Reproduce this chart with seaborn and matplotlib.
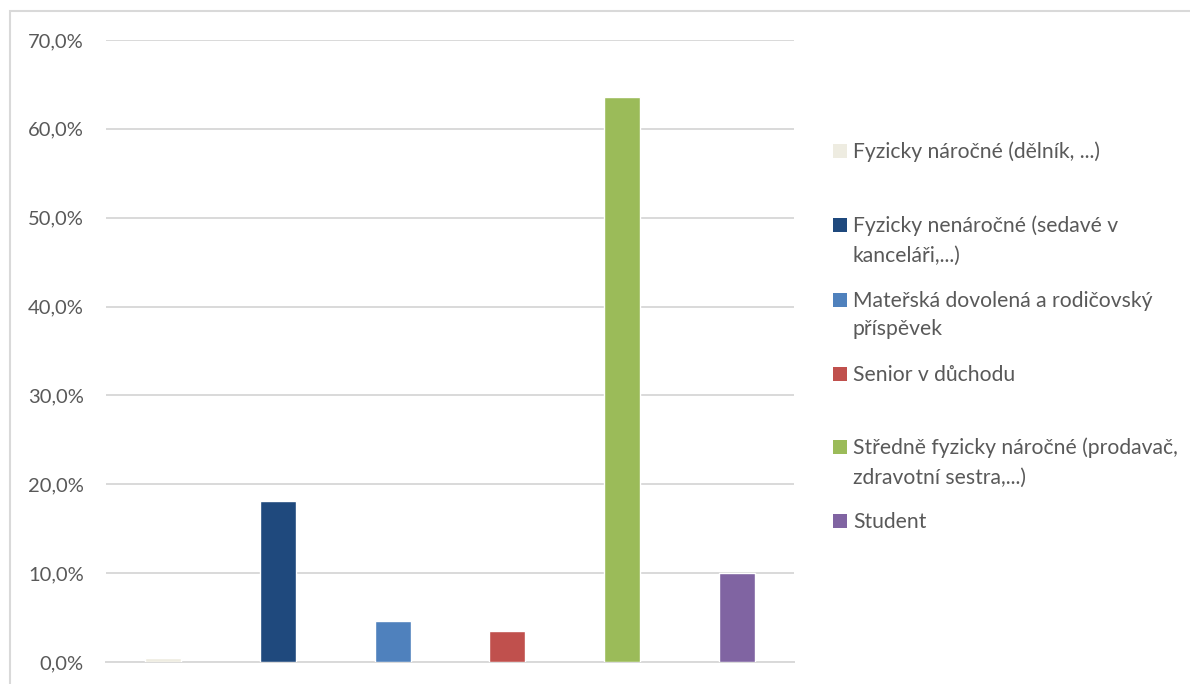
import matplotlib
matplotlib.use("Agg")
import matplotlib.pyplot as plt
from matplotlib.patches import Rectangle
from matplotlib.ticker import FuncFormatter
import seaborn as sns

categories = [
    "Fyzicky náročné (dělník, ...)",
    "Fyzicky nenáročné (sedavé v kanceláři,...)",
    "Mateřská dovolená a rodičovský příspěvek",
    "Senior v důchodu",
    "Středně fyzicky náročné (prodavač, zdravotní sestra,...)",
    "Student",
]
legend_labels = [
    "Fyzicky náročné (dělník, ...)",
    "Fyzicky nenáročné (sedavé v\nkanceláři,...)",
    "Mateřská dovolená a rodičovský\npříspěvek",
    "Senior v důchodu",
    "Středně fyzicky náročné (prodavač,\nzdravotní sestra,...)",
    "Student",
]
values = [0.4, 18.1, 4.6, 3.5, 63.6, 10.0]
colors = ["#EEECE1", "#1F497D", "#4F81BD", "#C0504D", "#9BBB59", "#8064A2"]
yticks = [0, 10, 20, 30, 40, 50, 60, 70]

sns.set_theme(style="white")
plt.rcParams["font.family"] = ["Lato", "DejaVu Sans"]

W, H = 1190, 684
fig = plt.figure(figsize=(W / 100, H / 100), dpi=100)
fig.patch.set_facecolor("white")

# outer chart border
fig.patches.append(Rectangle((10 / W, -0.1), 1.2, 1 - 10 / H + 0.1 - 0.001,
                             transform=fig.transFigure, fill=False,
                             edgecolor="#D9D9D9", linewidth=1.5))

ax = fig.add_axes([106 / W, 1 - 662 / H, (794 - 106) / W, (662 - 40) / H])
sns.barplot(x=categories, y=values, hue=categories, palette=colors,
            width=0.314, saturation=1, legend=False, ax=ax, zorder=3)

ax.set_ylim(0, 70)
ax.set_xlim(-0.5, len(categories) - 0.5)
ax.set_yticks(yticks)
ax.yaxis.set_major_formatter(FuncFormatter(lambda v, p: f"{v:.1f}%".replace(".", ",")))
ax.tick_params(axis="y", length=0, pad=16, labelsize=14.5, labelcolor="#595959")
ax.set_xticks([])
ax.set_xlabel("")
ax.set_ylabel("")
ax.grid(axis="y", color="#D9D9D9", linewidth=1.4, zorder=0)
for s in ["left", "right", "top"]:
    ax.spines[s].set_visible(False)
ax.spines["bottom"].set_color("#D9D9D9")
ax.spines["bottom"].set_linewidth(1.4)

# legend (Excel-style layout)
baselines = [[158], [232, 262], [307, 335], [381], [454, 484], [528]]
for lab, col, bl in zip(legend_labels, colors, baselines):
    fig.patches.append(Rectangle((833 / W, 1 - bl[0] / H), 14 / W, 14 / H,
                                 transform=fig.transFigure, facecolor=col,
                                 edgecolor="none"))
    for line, b in zip(lab.split("\n"), bl):
        fig.text(853 / W, 1 - b / H, line, ha="left", va="baseline",
                 fontsize=15.2, color="#595959")

fig.savefig("out.png", dpi=100, facecolor="white")
